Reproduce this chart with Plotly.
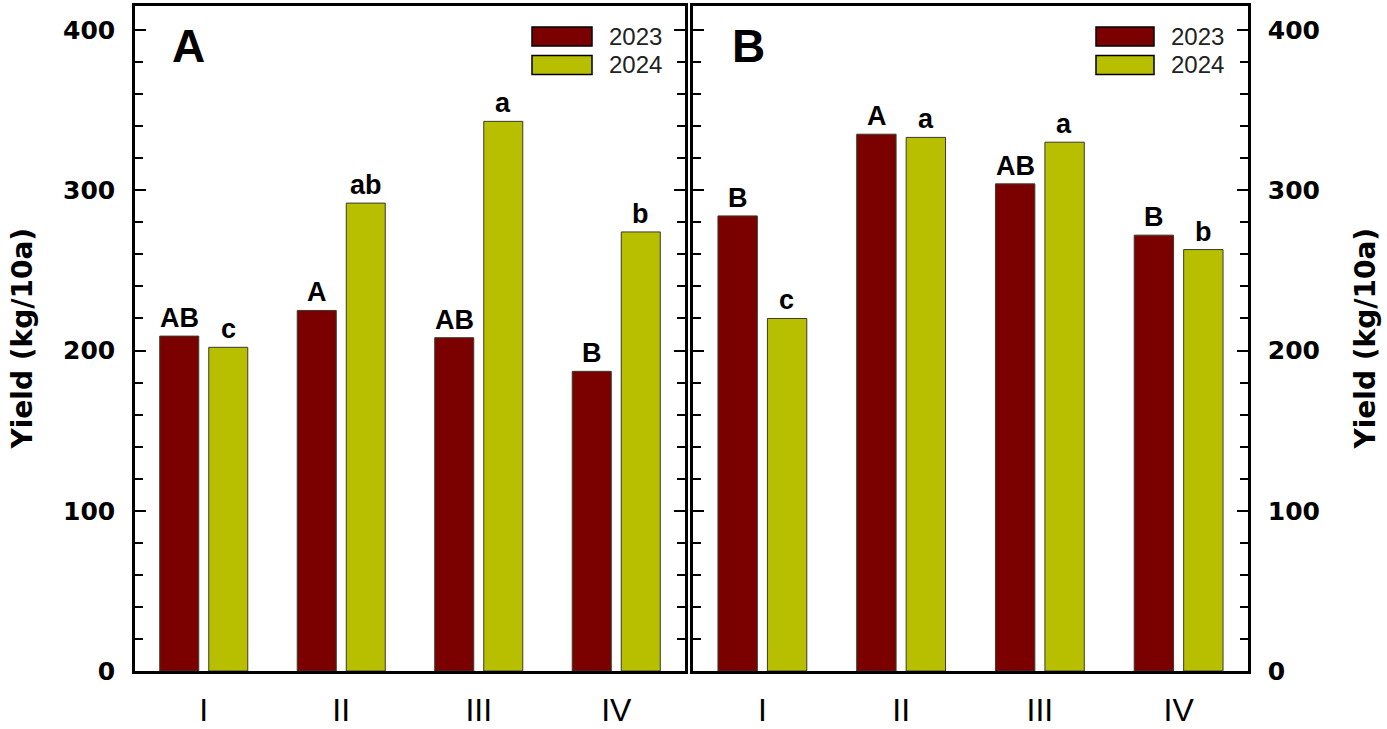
import plotly.graph_objects as go

# ---------------- data ----------------
categories = ["I", "II", "III", "IV"]
years = ["2023", "2024"]
yield_A_2023 = [209, 225, 208, 187]
yield_A_2024 = [202, 292, 343, 274]
yield_B_2023 = [284, 335, 304, 272]
yield_B_2024 = [220, 333, 330, 263]
letters_A_2023 = ["AB", "A", "AB", "B"]
letters_A_2024 = ["c", "ab", "a", "b"]
letters_B_2023 = ["B", "A", "AB", "B"]
letters_B_2024 = ["c", "a", "a", "b"]
y_tick_vals = [0, 100, 200, 300, 400]
panel_labels = ["A", "B"]
y_title = "Yield (kg/10a)"

colors = {"2023": "#7B0000", "2024": "#B8BF00"}

# ---------------- layout geometry (pixels) ----------------
W, H = 1387, 729
top_px, bot_px = 6, 671
A_l, A_r = 135, 685
B_l, B_r = 693, 1248


def px_x(p):
    return p / W


def px_y(p):
    return 1 - p / H


fig = go.Figure()

panels = [
    ("x", "y", [yield_A_2023, yield_A_2024], [letters_A_2023, letters_A_2024]),
    ("x2", "y2", [yield_B_2023, yield_B_2024], [letters_B_2023, letters_B_2024]),
]

for xa, ya, vals, lets in panels:
    for yr, v in zip(years, vals):
        fig.add_trace(go.Bar(
            x=categories, y=v, name=yr, xaxis=xa, yaxis=ya,
            marker=dict(color=colors[yr], line=dict(color="#3a3a2a", width=1)),
            showlegend=False, offsetgroup=yr,
        ))
    for k, (v, l) in enumerate(zip(vals, lets)):
        shift = -24.5 if k == 0 else 24.5
        for c, val, txt in zip(categories, v, l):
            fig.add_annotation(
                x=c, y=val, xref=xa, yref=ya, text=txt, showarrow=False,
                xshift=shift, yanchor="bottom", yshift=1,
                font=dict(family="Liberation Sans", size=27, color="black", weight="bold"),
            )

axis_common_y = dict(
    range=[0, 415], tickvals=y_tick_vals, ticks="inside", ticklen=11, tickwidth=2,
    tickcolor="black", showline=True, linewidth=2.5, linecolor="black",
    mirror="ticks", showgrid=False, zeroline=False, automargin=False,
    minor=dict(dtick=20, ticks="inside", ticklen=8, tickwidth=2, tickcolor="black", showgrid=False),
    tickfont=dict(family="DejaVu Sans", size=25, color="black", weight="bold"),
    ticklabelstandoff=12,
)
axis_common_x = dict(
    range=[-0.5, 3.5], type="category", showline=True, linewidth=2.5, linecolor="black",
    mirror=True, ticks="", showgrid=False, zeroline=False, automargin=False,
    tickfont=dict(family="Liberation Sans", size=32, color="black"),
    ticklabelstandoff=9,
)

ydom = [px_y(bot_px), px_y(top_px)]
fig.update_layout(
    width=W, height=H, margin=dict(l=0, r=0, t=0, b=0, autoexpand=False),
    paper_bgcolor="white", plot_bgcolor="white",
    barmode="group", bargap=0.287, bargroupgap=0.204,
    xaxis=dict(domain=[px_x(A_l), px_x(A_r)], anchor="y", **axis_common_x),
    xaxis2=dict(domain=[px_x(B_l), px_x(B_r)], anchor="y2", **axis_common_x),
    yaxis=dict(domain=ydom, anchor="x", side="left", **axis_common_y),
    yaxis2=dict(domain=ydom, anchor="x2", side="right", **axis_common_y),
)

# y titles
for xp in (22, 1365):
    fig.add_annotation(
        x=xp / W, y=(ydom[0] + ydom[1]) / 2, xref="paper", yref="paper",
        text=y_title, textangle=-90, showarrow=False,
        xanchor="center", yanchor="middle",
        font=dict(family="DejaVu Sans", size=28, color="black", weight="bold"),
    )

# panel letters and legends
plot_h = bot_px - top_px
letter_px = {"A": 170, "B": 730}
for (xa, ya, _, _), lab, (pl, pr), (sw_l, sw_r, tx) in zip(
        panels, panel_labels, [(A_l, A_r), (B_l, B_r)],
        [(532, 592, 607), (1096, 1154, 1169)]):
    pw = pr - pl
    xd = xa + " domain"
    yd = ya + " domain"
    fig.add_annotation(
        x=(letter_px[lab] - pl) / pw,
        y=1 - (46 - top_px) / plot_h, xref=xd, yref=yd, text=lab, showarrow=False,
        xanchor="left", yanchor="middle",
        font=dict(family="Liberation Sans", size=46, color="black", weight="bold"),
    )
    for i, yr in enumerate(years):
        y0p = 27 + i * 28.5
        y1p = y0p + 19
        fig.add_shape(
            type="rect", xref=xd, yref=yd,
            x0=(sw_l - pl) / pw, x1=(sw_r - pl) / pw,
            y0=1 - (y1p - top_px) / plot_h, y1=1 - (y0p - top_px) / plot_h,
            fillcolor=colors[yr], line=dict(color="black", width=1.5),
        )
        fig.add_annotation(
            x=(tx - pl) / pw, y=1 - ((y0p + y1p) / 2 - top_px) / plot_h,
            xref=xd, yref=yd, text=yr, showarrow=False,
            xanchor="left", yanchor="middle",
            font=dict(family="Liberation Sans", size=24, color="#222222"),
        )

fig.write_html("out.html")
